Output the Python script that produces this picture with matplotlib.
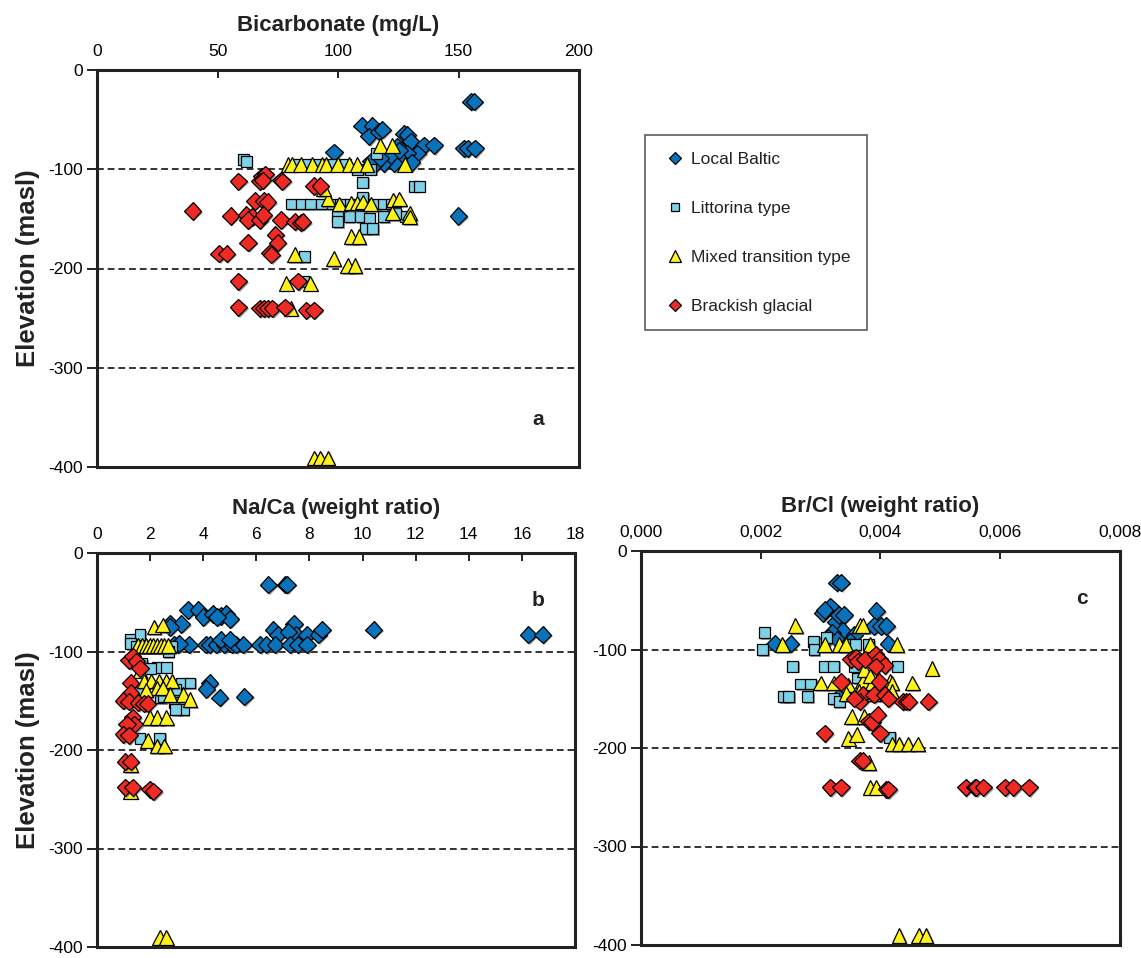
import matplotlib
matplotlib.use("Agg")
import matplotlib.pyplot as plt
from matplotlib.ticker import FuncFormatter, MultipleLocator
from matplotlib.lines import Line2D
import matplotlib.patheffects as pe

plt.rcParams['font.family'] = ['Liberation Sans', 'DejaVu Sans']
plt.rcParams['axes.unicode_minus'] = False

groups = ['Local Baltic', 'Littorina type', 'Mixed transition type', 'Brackish glacial']

# --- a: bicarbonate (mg/L) vs elevation
hco3_baltic_x = [155.0, 156.5, 110.0, 114.2, 112.8, 117.0, 118.4, 98.3, 127.4, 128.8, 130.1, 135.7,
                 139.8, 132.9, 128.8, 126.0, 123.2, 119.0, 115.6, 113.5, 121.8, 124.6, 130.5, 152.3,
                 153.8, 156.8, 149.9, 117.5, 125.5]
hco3_baltic_y = [-32, -32, -56, -56, -67, -62, -60, -83, -64, -65, -72, -76, -76, -84, -84, -91, -94,
                 -94, -94, -92, -86, -77, -93, -79, -79, -79, -147, -89, -81]

hco3_litt_x = [60.7, 61.9, 83, 87, 92, 98, 103, 108.2, 113.5, 110.3, 131.8, 133.7, 80.8, 85, 88.5, 93,
               97.5, 101, 105, 110, 115, 119, 122, 99.8, 99.8, 104.7, 109.5, 113, 111.5, 114.4, 119,
               128, 110.3, 86, 85.6, 116, 124]
hco3_litt_y = [-90, -92, -95, -95, -95, -95, -95, -100, -100, -113, -117, -117, -135, -135, -135, -135,
               -135, -135, -135, -135, -135, -135, -135, -148, -153, -148, -148, -150, -160, -160, -148,
               -148, -128, -188, -213, -84, -145]

hco3_mixed_x = [79.2, 80.8, 84.5, 89.3, 93.4, 95, 99.8, 104.7, 108, 112, 117.6, 122.5, 127.6, 95.8,
                100.6, 105.5, 108, 110.3, 113.6, 123, 125.5, 122.5, 129.7, 129.7, 105.5, 108.7, 98.2,
                104, 107, 82, 78.5, 88.5, 80.5, 90.1, 92.6, 95.8, 94]
hco3_mixed_y = [-95, -95, -95, -95, -95, -95, -95, -95, -95, -95, -76, -76, -95, -130, -135, -134, -134,
                -133, -135, -131, -130, -144, -144, -148, -168, -168, -190, -197, -197, -186, -215,
                -215, -240, -391, -391, -391, -120]

hco3_brack_x = [39.7, 58.6, 68.3, 69.9, 67.5, 68.8, 76.4, 76.9, 65.6, 69.1, 70.8, 55.4, 61.9, 64.3, 62.7,
                67.5, 69, 76.4, 82, 84.5, 85.3, 62.7, 74, 74.9, 50.6, 53.8, 71.6, 72.4, 90.1, 92.6, 58.6,
                83.4, 58.6, 67.5, 69.1, 70.8, 72.7, 78, 86.9, 90.1]
hco3_brack_y = [-142, -112, -107, -105, -112, -111, -111, -112, -132, -132, -133, -147, -146, -148, -151,
                -151, -146, -151, -153, -154, -153, -174, -166, -174, -185, -185, -184, -186, -117, -117,
                -213, -213, -239, -240, -240, -240, -240, -239, -242, -242]

# --- b: Na/Ca weight ratio vs elevation
naca_baltic_x = [6.45, 7.09, 7.16, 3.43, 3.81, 4.0, 4.35, 4.66, 4.87, 5.01, 4.52, 2.75, 3.18, 2.75, 6.64,
                 6.81, 7.42, 7.49, 7.2, 7.91, 8.33, 8.47, 10.42, 16.24, 16.78, 2.9, 3.04, 3.46, 4.1, 4.24,
                 4.49, 4.8, 5.08, 5.23, 5.51, 6.14, 6.38, 6.71, 7.27, 7.56, 7.91, 4.66, 5.01, 4.24, 4.12,
                 4.62, 5.55, 3.1]
naca_baltic_y = [-32, -32, -32, -58, -58, -65, -62, -64, -62, -67, -65, -72, -72, -75, -78, -83, -72, -83,
                 -80, -83, -83, -78, -78, -83, -83, -93, -93, -93, -93, -93, -93, -93, -93, -93, -93, -93,
                 -93, -93, -93, -93, -93, -88, -88, -132, -138, -147, -146, -92]

naca_litt_x = [1.27, 1.62, 1.27, 1.5, 1.8, 2.1, 2.4, 2.8, 2.68, 1.69, 2.26, 2.61, 3.18, 3.5, 2.97, 2.4,
               2.9, 3.25, 2.97, 1.62, 2.36, 1.55, 2.0, 2.5]
naca_litt_y = [-88, -83, -92, -95, -95, -95, -95, -95, -100, -112, -116, -116, -132, -132, -139, -147,
               -152, -159, -159, -188, -188, -142, -117, -146]

naca_mixed_x = [2.15, 2.47, 1.53, 1.7, 1.85, 1.98, 2.12, 2.26, 2.4, 2.54, 2.68, 1.62, 1.77, 2.05, 2.33,
                2.61, 2.82, 2.26, 2.47, 1.84, 2.75, 3.25, 3.5, 1.98, 2.26, 2.61, 1.91, 2.26, 2.54, 1.27,
                1.27, 2.36, 2.61]
naca_mixed_y = [-75, -73, -94, -94, -94, -94, -94, -94, -94, -94, -94, -119, -130, -130, -130, -130,
                -130, -137, -137, -139, -144, -144, -149, -167, -167, -167, -190, -196, -196, -215,
                -242, -390, -390]

naca_brack_x = [1.2, 1.34, 1.48, 1.62, 1.27, 1.27, 0.99, 1.2, 1.55, 1.77, 1.91, 1.34, 1.41, 1.13, 0.99,
                1.2, 1.06, 1.27, 1.06, 1.34, 1.98, 2.12]
naca_brack_y = [-109, -105, -110, -117, -132, -142, -150, -151, -152, -153, -153, -167, -174, -174, -184,
                -185, -212, -212, -238, -238, -240, -242]

# --- c: Br/Cl weight ratio vs elevation
brcl_baltic_x = [0.00327, 0.00334, 0.00304, 0.00316, 0.00307, 0.00325, 0.0033, 0.00339, 0.00393,
                 0.00389, 0.00401, 0.0041, 0.00337, 0.00319, 0.00356, 0.00224, 0.0025, 0.00413,
                 0.00313, 0.00328, 0.00349, 0.00334]
brcl_baltic_y = [-32, -32, -63, -56, -60, -72, -65, -65, -61, -76, -76, -76, -81, -83, -85, -94, -94,
                 -94, -88, -90, -92, -146]

brcl_litt_x = [0.00206, 0.00203, 0.00253, 0.00307, 0.00322, 0.00356, 0.00428, 0.00266, 0.00283,
               0.00238, 0.00247, 0.00278, 0.00322, 0.00331, 0.00288, 0.00289, 0.0031, 0.00349,
               0.00358, 0.0038, 0.00362, 0.00415]
brcl_litt_y = [-83, -100, -117, -117, -117, -117, -117, -135, -135, -148, -148, -148, -150, -153, -92,
               -100, -88, -95, -95, -95, -129, -189]

brcl_mixed_x = [0.00258, 0.00365, 0.0037, 0.00236, 0.00307, 0.00331, 0.00342, 0.00383, 0.00427,
                0.00486, 0.003, 0.00322, 0.00346, 0.0037, 0.00386, 0.00401, 0.00416, 0.00419, 0.00453,
                0.00373, 0.00383, 0.00343, 0.00364, 0.00389, 0.00419, 0.00352, 0.00373, 0.00346,
                0.0036, 0.00419, 0.00431, 0.00446, 0.00462, 0.0038, 0.00383, 0.00393, 0.00431,
                0.00464, 0.00476]
brcl_mixed_y = [-76, -76, -76, -95, -95, -95, -95, -95, -95, -119, -134, -134, -136, -132, -134, -136,
                -132, -134, -134, -120, -127, -145, -143, -145, -143, -168, -168, -190, -186, -196,
                -196, -196, -196, -215, -240, -240, -390, -390, -390]

brcl_brack_x = [0.00307, 0.00316, 0.00334, 0.0041, 0.00413, 0.00542, 0.00558, 0.0056, 0.00572, 0.00608,
                0.00622, 0.00648, 0.00365, 0.0037, 0.00399, 0.0038, 0.00386, 0.00395, 0.0035, 0.00359,
                0.00362, 0.00374, 0.00392, 0.00398, 0.00407, 0.00392, 0.00334, 0.00398, 0.0037,
                0.00389, 0.00365, 0.00356, 0.00407, 0.00413, 0.00437, 0.00443, 0.00447, 0.0048]
brcl_brack_y = [-185, -240, -240, -242, -242, -240, -240, -240, -240, -240, -240, -240, -213, -213,
                -185, -173, -174, -166, -110, -108, -112, -110, -105, -110, -116, -117, -133, -133,
                -146, -146, -153, -150, -146, -150, -153, -153, -153, -153]

# marker style per water type
styles = [
    dict(marker='D', color='#0A72BA', ms=8.8),
    dict(marker='s', color='#7FD1E8', ms=7.8),
    dict(marker='^', color='#FFF21C', ms=10.6),
    dict(marker='D', color='#EE2A24', ms=8.8),
]
shadow = [pe.SimplePatchShadow(offset=(1.2, -1.2), shadow_rgbFace='0.35', alpha=0.6), pe.Normal()]

fig = plt.figure(figsize=(11.41, 9.58), dpi=100)


def panel(rect, series, xlim, xstep, xlabel, letter, letter_pos, ylabel=True, fmt=None):
    ax = fig.add_axes(rect)
    for (x, y), st in zip(series, styles):
        ax.plot(x, y, linestyle='none', marker=st['marker'], ms=st['ms'],
                markerfacecolor=st['color'], markeredgecolor='black', markeredgewidth=0.9,
                path_effects=shadow)
    ax.set_xlim(*xlim)
    ax.set_ylim(-400, 0)
    ax.xaxis.set_major_locator(MultipleLocator(xstep))
    ax.yaxis.set_major_locator(MultipleLocator(100))
    if fmt:
        ax.xaxis.set_major_formatter(FuncFormatter(fmt))
    ax.xaxis.tick_top()
    ax.xaxis.set_label_position('top')
    ax.tick_params(axis='x', direction='in', length=6, width=1.4, labelsize=12.5, pad=8, color='#222222')
    ax.tick_params(axis='y', direction='out', length=7, width=1.4, labelsize=12.5, pad=3, color='#222222')
    for s in ax.spines.values():
        s.set_linewidth(2.2)
        s.set_color('#222222')
    for yv in (-100, -200, -300):
        ax.axhline(yv, color='#333333', linestyle=(0, (3.5, 2)), linewidth=1.4, zorder=0.5)
    ax.set_xlabel(xlabel, fontsize=16, fontweight='bold', labelpad=9, color='#222222')
    if ylabel:
        ax.set_ylabel('Elevation (masl)', fontsize=18.5, fontweight='bold', labelpad=6, color='#222222')
    ax.text(*letter_pos, letter, transform=ax.transAxes, fontsize=15, fontweight='bold',
            ha='center', va='center', color='#222222')
    return ax


W, H = 1141, 958


def rect(left, top, right, bottom):
    return [left / W, 1 - bottom / H, (right - left) / W, (bottom - top) / H]


panel(rect(97, 70, 579, 467),
      [(hco3_baltic_x, hco3_baltic_y), (hco3_litt_x, hco3_litt_y),
       (hco3_mixed_x, hco3_mixed_y), (hco3_brack_x, hco3_brack_y)],
      (0, 200), 50, 'Bicarbonate (mg/L)', 'a', (0.915, 0.12))

panel(rect(97, 553, 575, 947),
      [(naca_baltic_x, naca_baltic_y), (naca_litt_x, naca_litt_y),
       (naca_mixed_x, naca_mixed_y), (naca_brack_x, naca_brack_y)],
      (0, 18), 2, 'Na/Ca (weight ratio)', 'b', (0.922, 0.88))

panel(rect(641, 551, 1120, 945),
      [(brcl_baltic_x, brcl_baltic_y), (brcl_litt_x, brcl_litt_y),
       (brcl_mixed_x, brcl_mixed_y), (brcl_brack_x, brcl_brack_y)],
      (0, 0.008), 0.002, 'Br/Cl (weight ratio)', 'c', (0.92, 0.88), ylabel=False,
      fmt=lambda v, p: f'{v:.3f}'.replace('.', ','))

handles = [Line2D([], [], linestyle='none', marker=st['marker'], ms=st['ms'] * 0.75,
                  markerfacecolor=st['color'], markeredgecolor='black', markeredgewidth=0.9)
           for st in styles]
leg = fig.legend(handles, groups, loc='upper left', bbox_to_anchor=(645 / W, 1 - 135 / H),
                 fontsize=12.5, frameon=True, fancybox=False, edgecolor='#333333',
                 labelspacing=1.95, borderpad=0.95, handletextpad=0.1, handlelength=1.6,
                 borderaxespad=0)
leg.get_frame().set_linewidth(1.2)
for t in leg.get_texts():
    t.set_color('#222222')

fig.savefig('out.png', dpi=100)
